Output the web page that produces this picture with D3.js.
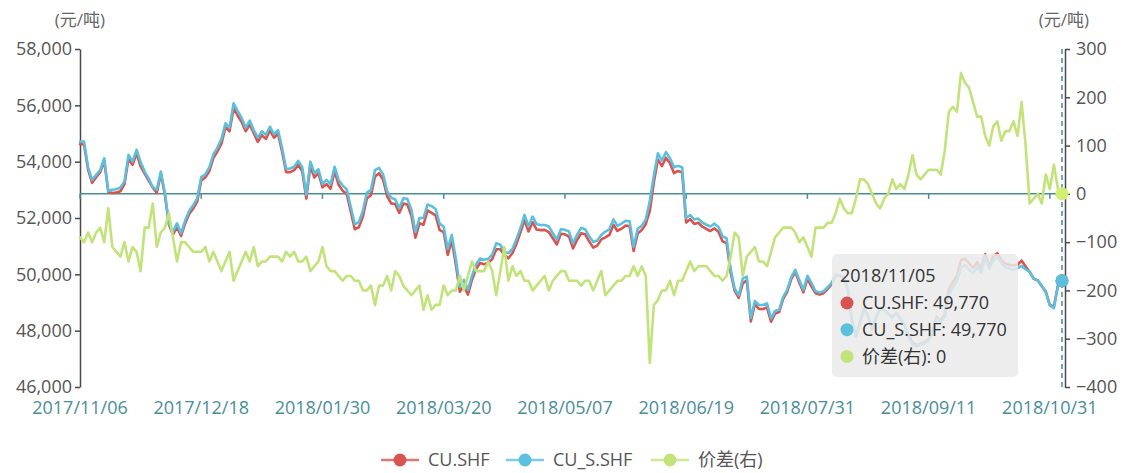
<!DOCTYPE html>
<html>
<head>
<meta charset="utf-8">
<script src="https://cdn.jsdelivr.net/npm/d3@7"></script>
<style>
  body { margin: 0; background: #fff; }
  svg { display: block; font-family: "Open Sans", "Noto Sans CJK SC", sans-serif; }
</style>
</head>
<body>
<svg id="chart" width="1123" height="473"></svg>
<script>
// trading days 2017/11/06 .. 2018/11/05 (SHFE closed on these weekdays)
const holidays = ["2018-01-01", "2018-02-15", "2018-02-16", "2018-02-19", "2018-02-20", "2018-02-21",
  "2018-04-05", "2018-04-06", "2018-04-30", "2018-05-01", "2018-06-18", "2018-09-24",
  "2018-10-01", "2018-10-02", "2018-10-03", "2018-10-04", "2018-10-05"];

const xTickLabels = ["2017/11/06", "2017/12/18", "2018/01/30", "2018/03/20", "2018/05/07",
  "2018/06/19", "2018/07/31", "2018/09/11", "2018/10/31"];
const leftTicks = [46000, 48000, 50000, 52000, 54000, 56000, 58000];
const rightTicks = [-400, -300, -200, -100, 0, 100, 200, 300];
const seriesNames = ["CU.SHF", "CU_S.SHF", "价差(右)"];

const cuShf = [
  54620, 54610, 53720, 53250, 53450, 53630, 54020, 52930, 52890, 52900,
  52950, 53200, 54100, 53890, 54300, 53830, 53580, 53330, 53080, 52890,
  53570, 52830, 51770, 51410, 51670, 51360, 51800, 52140, 52330, 52580,
  53330, 53440, 53660, 54130, 54360, 54640, 55220, 55080, 55890, 55640,
  55410, 55080, 55320, 55010, 54700, 54940, 54810, 55110, 54850, 54990,
  54360, 53630, 53630, 53700, 53890, 53660, 52690, 53840, 53440, 53590,
  53090, 53200, 53040, 53660, 53180, 52970, 52850, 52230, 51600, 51670,
  52050, 52700, 52810, 53470, 53590, 53360, 52780, 52520, 52500, 52180,
  52510, 52480, 52090, 51300, 51810, 51760, 52270, 52180, 52090, 51570,
  51500, 50690, 51200, 50350, 49380, 49600, 49280, 49810, 50190, 50400,
  50360, 50410, 50540, 50890, 50890, 50690, 50570, 50750, 51080, 51490,
  51930, 51520, 51850, 51590, 51570, 51580, 51500, 51280, 51060, 51440,
  51420, 51340, 50920, 51220, 51460, 51420, 51170, 50950, 51020, 51240,
  51310, 51400, 51760, 51540, 51620, 51730, 51710, 50830, 51450, 51570,
  51780, 52250, 53270, 54080, 53840, 54140, 53940, 53590, 53670, 53620,
  51840, 51960, 51790, 51830, 51690, 51610, 51540, 51630, 51510, 51170,
  51110, 50070, 49420, 49160, 49680, 49790, 48330, 48940, 48770, 48770,
  48820, 48320, 48610, 48660, 49130, 49380, 49830, 50080, 49700, 49360,
  49840, 49570, 49330, 49280, 49330, 49480, 49640, 49960, 49940, 49890,
  49460, 48360, 47790, 48280, 48780, 48520, 48050, 48480, 48770, 48740,
  48600, 48480, 48630, 48420, 48210, 47840, 47580, 47490, 47530, 47590,
  47700, 48000, 48500, 48340, 48590, 49470, 49730, 49950, 50500, 50560,
  50390, 50230, 50430, 50210, 50720, 50300, 50640, 50750, 50510, 50380,
  50330, 50320, 50340, 50490, 50280, 50080, 49840, 49780, 49580, 49390,
  48910, 48860, 49610, 49770
];

const cuSShf = [
  54710, 54710, 53800, 53350, 53530, 53700, 54120, 52960, 53000, 53020,
  53080, 53300, 54240, 54000, 54420, 53990, 53650, 53400, 53100, 53000,
  53650, 52900, 51810, 51500, 51810, 51460, 51900, 52250, 52450, 52700,
  53450, 53550, 53800, 54250, 54500, 54800, 55360, 55200, 56070, 55800,
  55550, 55200, 55460, 55120, 54850, 55080, 54950, 55240, 54980, 55120,
  54500, 53750, 53760, 53820, 54030, 53800, 52820, 54000, 53590, 53730,
  53200, 53350, 53200, 53820, 53350, 53150, 53020, 52400, 51780, 51850,
  52250, 52900, 53000, 53700, 53780, 53550, 52950, 52720, 52660, 52350,
  52700, 52680, 52300, 51500, 52000, 52000, 52480, 52420, 52320, 51800,
  51690, 50900, 51400, 50550, 49550, 49800, 49450, 49950, 50350, 50560,
  50520, 50550, 50700, 51100, 51050, 50800, 50750, 50900, 51250, 51650,
  52110, 51700, 52050, 51780, 51750, 51750, 51700, 51460, 51230, 51600,
  51580, 51520, 51100, 51400, 51650, 51600, 51350, 51150, 51200, 51400,
  51520, 51600, 51950, 51720, 51800, 51900, 51880, 50980, 51620, 51720,
  51950, 52600, 53500, 54300, 54040, 54340, 54120, 53800, 53850, 53800,
  52000, 52100, 51950, 51980, 51840, 51760, 51700, 51800, 51680, 51350,
  51280, 50200, 49500, 49250, 49850, 49920, 48450, 49050, 48910, 48910,
  48970, 48440, 48700, 48740, 49200, 49450, 49900, 50160, 49800, 49450,
  49950, 49700, 49400, 49350, 49400, 49540, 49700, 50000, 49950, 49920,
  49500, 48400, 47800, 48250, 48750, 48500, 48050, 48500, 48800, 48750,
  48600, 48450, 48620, 48400, 48200, 47800, 47500, 47450, 47500, 47550,
  47650, 47950, 48450, 48300, 48500, 49300, 49550, 49780, 50250, 50330,
  50170, 50040, 50270, 50050, 50600, 50200, 50500, 50600, 50400, 50250,
  50200, 50170, 50220, 50300, 50180, 50100, 49850, 49780, 49600, 49350,
  48900, 48800, 49600, 49770
];

const spread = [
  -90, -100, -80, -100, -80, -70, -100, -30, -110, -120,
  -130, -100, -140, -110, -120, -160, -70, -70, -20, -110,
  -80, -70, -40, -90, -140, -100, -100, -110, -120, -120,
  -120, -110, -140, -120, -140, -160, -140, -120, -180, -160,
  -140, -120, -140, -110, -150, -140, -140, -130, -130, -130,
  -140, -120, -130, -120, -140, -140, -130, -160, -150, -140,
  -110, -150, -160, -160, -170, -180, -170, -170, -180, -180,
  -200, -200, -190, -230, -190, -190, -170, -200, -160, -170,
  -190, -200, -210, -200, -190, -240, -210, -240, -230, -230,
  -190, -210, -200, -200, -170, -200, -170, -140, -160, -160,
  -160, -140, -160, -210, -160, -110, -180, -150, -170, -160,
  -180, -180, -200, -190, -180, -170, -200, -180, -170, -160,
  -160, -180, -180, -180, -190, -180, -180, -200, -180, -160,
  -210, -200, -190, -180, -180, -170, -170, -150, -170, -150,
  -170, -350, -230, -220, -200, -200, -180, -210, -180, -180,
  -160, -140, -160, -150, -150, -150, -160, -170, -170, -180,
  -170, -130, -80, -90, -170, -130, -120, -110, -140, -140,
  -150, -120, -90, -80, -70, -70, -70, -80, -100, -90,
  -110, -130, -70, -70, -70, -60, -60, -40, -10, -30,
  -40, -40, -10, 30, 30, 20, 0, -20, -30, -10,
  0, 30, 10, 20, 10, 40, 80, 40, 30, 40,
  50, 50, 50, 40, 90, 170, 180, 170, 250, 230,
  220, 190, 160, 160, 120, 100, 140, 150, 110, 130,
  130, 150, 120, 190, 100, -20, -10, 0, -20, 40,
  10, 60, 10, 0
];

const dates = [];
for (let d = new Date(Date.UTC(2017, 10, 6)); d <= new Date(Date.UTC(2018, 10, 5)); d.setUTCDate(d.getUTCDate() + 1)) {
  const iso = d.toISOString().slice(0, 10);
  const wd = d.getUTCDay();
  if (wd === 0 || wd === 6 || holidays.includes(iso)) continue;
  dates.push(iso.replace(/-/g, "/"));
}

const colors = ["#d9534f", "#5bc0de", "#c2e37a"];
const teal = "#4a8e98";

const svg = d3.select("#chart");
const plot = { left: 80, right: 1062, top: 49, bottom: 387 };

const x = d3.scalePoint().domain(dates).range([plot.left, plot.right]);
const yL = d3.scaleLinear().domain([46000, 58000]).range([plot.bottom, plot.top]);
const yR = d3.scaleLinear().domain([-400, 300]).range([plot.bottom, plot.top]);

// y axes
const gl = svg.append("g").attr("transform", `translate(${plot.left},0)`)
  .call(d3.axisLeft(yL).tickValues(leftTicks).tickFormat(d3.format(",")).tickSize(5).tickSizeOuter(0).tickPadding(3));
const gr = svg.append("g").attr("transform", "translate(1065,0)")
  .call(d3.axisRight(yR).tickValues(rightTicks).tickSize(5).tickSizeOuter(0).tickPadding(6));
[gl, gr].forEach(g => {
  g.attr("font-family", null).attr("font-size", null);
  g.select(".domain").attr("stroke", "#4a4a4a").attr("stroke-width", 1.5);
  g.selectAll(".tick line").attr("stroke", "#4a4a4a").attr("stroke-width", 1.5);
  g.selectAll(".tick text").attr("fill", "#555").style("font-size", "18px");
});

// units
svg.append("text").attr("x", plot.left).attr("y", 20).attr("text-anchor", "middle").attr("dy", "0.35em")
  .attr("fill", "#666").style("font-size", "17px").text("(元/吨)");
svg.append("text").attr("x", 1064).attr("y", 20).attr("text-anchor", "middle").attr("dy", "0.35em")
  .attr("fill", "#666").style("font-size", "17px").text("(元/吨)");

// x axis line sits on zero of the right axis, labels at bottom
const y0 = yR(0);
svg.append("line").attr("x1", plot.left).attr("x2", plot.right).attr("y1", y0).attr("y2", y0)
  .attr("stroke", teal).attr("stroke-width", 1.5);
svg.selectAll(".xtick").data(xTickLabels).enter().append("line")
  .attr("x1", d => x(d)).attr("x2", d => x(d)).attr("y1", y0).attr("y2", y0 + 5)
  .attr("stroke", teal).attr("stroke-width", 1.5);
svg.selectAll(".xlabel").data(xTickLabels).enter().append("text")
  .attr("x", d => x(d)).attr("y", 408).attr("dy", "0.35em").attr("text-anchor", "middle")
  .attr("fill", teal).style("font-size", "18px").text(d => d);

// series
const lineL = d3.line().x((d, i) => x(dates[i])).y(d => yL(d));
const lineR = d3.line().x((d, i) => x(dates[i])).y(d => yR(d));
const paths = [[cuShf, lineL], [cuSShf, lineL], [spread, lineR]];
paths.forEach(([data, gen], k) => {
  svg.append("path").datum(data).attr("d", gen).attr("fill", "none")
    .attr("stroke", colors[k]).attr("stroke-width", 2.6)
    .attr("stroke-linejoin", "round").attr("stroke-linecap", "round");
});

// axis pointer at last date
const last = dates.length - 1;
const px = x(dates[last]);
svg.append("line").attr("x1", px).attr("x2", px).attr("y1", plot.top).attr("y2", plot.bottom)
  .attr("stroke", teal).attr("stroke-width", 1.5).attr("stroke-dasharray", "5,4");
svg.append("circle").attr("cx", px).attr("cy", yL(cuShf[last])).attr("r", 6.5).attr("fill", colors[0]);
svg.append("circle").attr("cx", px).attr("cy", yL(cuSShf[last])).attr("r", 6.5).attr("fill", colors[1]);
svg.append("circle").attr("cx", px).attr("cy", yR(spread[last])).attr("r", 6.5).attr("fill", "#d3ef72");

// tooltip
const fmt = d3.format(",");
const tip = svg.append("g").attr("transform", "translate(832,254)");
tip.append("rect").attr("width", 186).attr("height", 123).attr("rx", 5)
  .attr("fill", "rgba(234,234,234,0.85)");
tip.append("text").attr("x", 8).attr("y", 22).attr("dy", "0.35em").attr("fill", "#333")
  .style("font-size", "18px").text(dates[last]);
const tipVals = [fmt(cuShf[last]), fmt(cuSShf[last]), fmt(spread[last])];
seriesNames.forEach((n, k) => {
  const cy = 49 + k * 26.7;
  tip.append("circle").attr("cx", 15).attr("cy", cy).attr("r", 6.5).attr("fill", colors[k]);
  tip.append("text").attr("x", 30).attr("y", cy).attr("dy", "0.35em").attr("fill", "#333")
    .style("font-size", "18px").text(`${n}: ${tipVals[k]}`);
});

// legend
const legendX = [400, 525, 670];
seriesNames.forEach((n, k) => {
  const g = svg.append("g").attr("transform", `translate(${legendX[k]},460)`);
  g.append("line").attr("x1", -19).attr("x2", 19).attr("stroke", colors[k]).attr("stroke-width", 2.5).attr("opacity", 0.8);
  g.append("circle").attr("r", 6.5).attr("fill", colors[k]);
  g.append("text").attr("x", 28).attr("dy", "0.35em").attr("fill", "#555")
    .style("font-size", "18px").text(n);
});
</script>
</body>
</html>
